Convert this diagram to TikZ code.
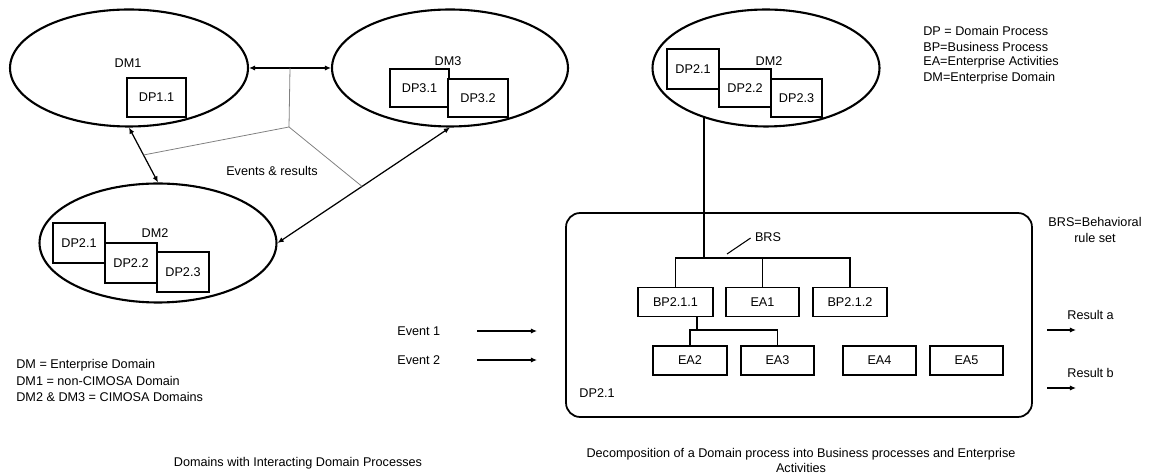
\documentclass[tikz,border=0pt]{standalone}
\usepackage{fontspec}
\setmainfont{Liberation Sans}
\usetikzlibrary{shapes.geometric,arrows.meta,calc}
\begin{document}
\begin{tikzpicture}[x=0.02cm,y=-0.02cm,
  font=\fontsize{7.2}{9}\selectfont,
  domainell/.style={draw,ellipse,line width=1.2pt,inner sep=0pt},
  proc/.style={draw,fill=white,line width=0.75pt,inner sep=0pt},
  link/.style={line width=0.7pt,{Latex[length=3.5pt,width=3pt]}-{Latex[length=3.5pt,width=3pt]}},
  flow/.style={line width=0.7pt,-{Latex[length=3.5pt,width=3pt]}},
  thinlink/.style={gray,line width=0.45pt},
  tree/.style={line width=0.85pt},
  txt/.style={inner sep=0pt}]

\useasboundingbox (0,0) rectangle (1149,475);

% ---------- left half: domains and their interactions ----------
\node[domainell,minimum width=4.76cm,minimum height=2.34cm] (dm1) at (129,68) {};
\node[domainell,minimum width=4.72cm,minimum height=2.34cm] (dm3) at (450,68) {};
\node[domainell,minimum width=4.74cm,minimum height=2.38cm] (dm2l) at (158,243) {};

\node[txt] (dm1lbl) at (128,63) {DM1};
\node[proc,minimum width=1.18cm,minimum height=0.78cm] (dp11) at (156.5,97.5) {DP1.1};

\node[txt] (dm3lbl) at (448,61) {DM3};
\node[proc,minimum width=1.18cm,minimum height=0.76cm] (dp31) at (419.5,88) {DP3.1};
\node[proc,minimum width=1.20cm,minimum height=0.76cm] (dp32) at (478,98) {DP3.2};

\node[txt] (dm2llbl) at (155,233) {DM2};
\node[proc,minimum width=1.04cm,minimum height=0.80cm] (ldp21) at (79,243) {DP2.1};
\node[proc,minimum width=1.04cm,minimum height=0.80cm] (ldp22) at (131,263) {DP2.2};
\node[proc,minimum width=1.04cm,minimum height=0.80cm] (ldp23) at (183,272) {DP2.3};

\draw[link] (dm1.east) -- (dm3.west);
\draw[link] (dm1.south) -- (dm2l.north);
\draw[link] (dm2l.east) -- (dm3.south);

\coordinate (jn) at (289,127);
\draw[thinlink] ($(dm1.east)!0.5!(dm3.west)$) -- (jn) -- ($(dm1.south)!0.5!(dm2l.north)$);
\draw[thinlink] (jn) -- ($(dm2l.east)!0.49!(dm3.south)$);
\node[txt] (evres) at (272,171) {Events \& results};

\node[txt,anchor=west] (lg1) at (16,365) {DM = Enterprise Domain};
\node[txt,anchor=west] (lg2) at (16,381) {DM1 = non-CIMOSA Domain};
\node[txt,anchor=west] (lg3) at (16,397) {DM2 \& DM3 = CIMOSA Domains};

\node[txt] (capL) at (298,463) {Domains with Interacting Domain Processes};

% ---------- right half: decomposition of DP2.1 ----------
\node[domainell,minimum width=4.54cm,minimum height=2.34cm] (dm2r) at (766,68) {};
\node[txt] (dm2rlbl) at (769,61) {DM2};
\node[proc,minimum width=1.04cm,minimum height=0.80cm] (rdp21) at (693,69) {DP2.1};
\node[proc,minimum width=1.04cm,minimum height=0.76cm] (rdp22) at (745,88) {DP2.2};
\node[proc,minimum width=1.02cm,minimum height=0.76cm] (rdp23) at (796.5,98) {DP2.3};

\node[txt,anchor=west] (df1) at (923,31) {DP = Domain Process};
\node[txt,anchor=west] (df2) at (923,47) {BP=Business Process};
\node[txt,anchor=west] (df3) at (923,62) {EA=Enterprise Activities};
\node[txt,anchor=west] (df4) at (923,78) {DM=Enterprise Domain};

\node[draw,rounded corners=0.28cm,line width=1pt,minimum width=9.32cm,minimum height=4.08cm] (frame) at (799,315) {};
\node[txt] (dp21lbl) at (597,393) {DP2.1};

\node[txt,align=center] (brsdef) at (1095,230) {BRS=Behavioral\\rule set};

\node[proc,minimum width=1.50cm,minimum height=0.58cm] (bp211) at (675.5,302) {BP2.1.1};
\node[proc,minimum width=1.46cm,minimum height=0.58cm] (ea1) at (762.5,302) {EA1};
\node[proc,minimum width=1.48cm,minimum height=0.58cm] (bp212) at (850,302) {BP2.1.2};
\node[proc,minimum width=1.48cm,minimum height=0.58cm] (ea2) at (690,360.5) {EA2};
\node[proc,minimum width=1.46cm,minimum height=0.58cm] (ea3) at (777.5,360.5) {EA3};
\node[proc,minimum width=1.46cm,minimum height=0.58cm] (ea4) at (879.5,360.5) {EA4};
\node[proc,minimum width=1.46cm,minimum height=0.58cm] (ea5) at (966.5,360.5) {EA5};

% behavioural rule set tree
\coordinate (bus) at (0,258);
\draw[tree] (dm2r.219) -- (dm2r.219 |- bus);
\draw[tree] (bp211.north) -- (bp211.north |- bus) -- (bp212.north |- bus) -- (bp212.north);
\draw[tree] (ea1.north) -- (ea1.north |- bus);
\coordinate (sub) at (697,330);
\draw[tree] (bp211.south -| sub) -- (sub);
\draw[tree] (ea2.north) -- (ea2.north |- sub) -- (ea3.north |- sub) -- (ea3.north);

\node[txt] (brs) at (768,237) {BRS};
\coordinate (brstip) at (727,254);
\draw[line width=0.6pt] (brstip) -- ($(brs.west)+(-4,1)$);

% events in, results out
\node[txt,anchor=west] (ev1) at (397,331) {Event 1};
\node[txt,anchor=west] (ev2) at (397,360) {Event 2};
\coordinate (ev1a) at (477,331);
\coordinate (ev1b) at (537,331);
\coordinate (ev2a) at (477,360);
\coordinate (ev2b) at (537,360);
\draw[flow] (ev1a) -- (ev1b);
\draw[flow] (ev2a) -- (ev2b);

\node[txt,anchor=west] (resa) at (1067,315) {Result a};
\node[txt,anchor=west] (resb) at (1067,373) {Result b};
\coordinate (ra1) at (1047,330);
\coordinate (ra2) at (1076,330);
\coordinate (rb1) at (1047,388);
\coordinate (rb2) at (1076,388);
\draw[flow] (ra1) -- (ra2);
\draw[flow] (rb1) -- (rb2);

\node[txt,align=center] (capR) at (801,460.5) {Decomposition of a Domain process into Business processes and Enterprise\\Activities};

\end{tikzpicture}
\end{document}
